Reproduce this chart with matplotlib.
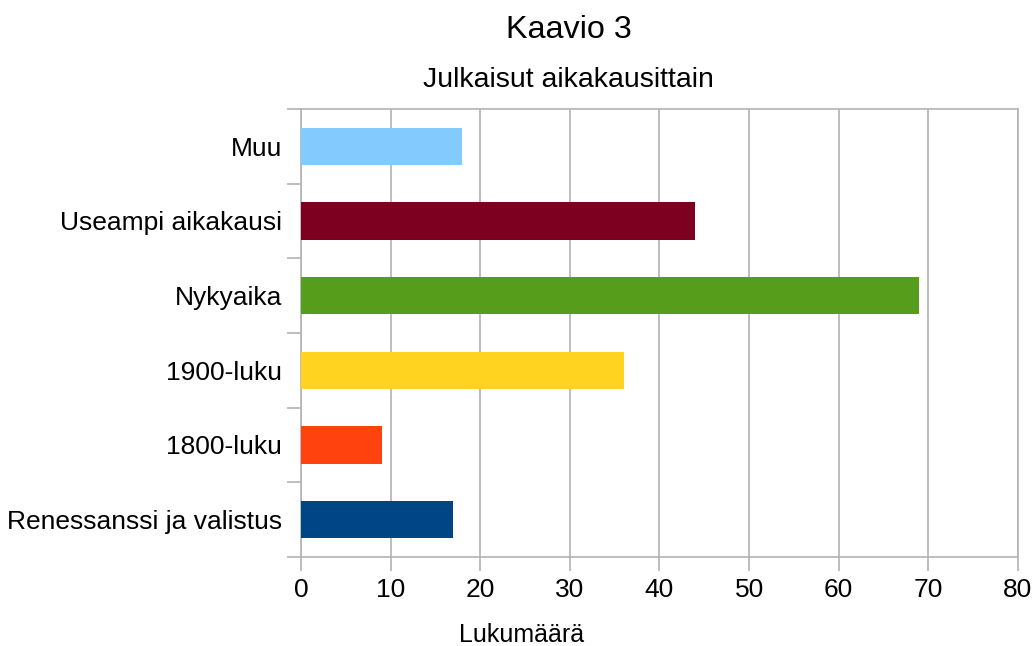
import matplotlib
matplotlib.use("Agg")
import matplotlib.pyplot as plt

plt.rcParams['font.family'] = ['Liberation Sans', 'DejaVu Sans']

categories = ["Renessanssi ja valistus", "1800-luku", "1900-luku",
              "Nykyaika", "Useampi aikakausi", "Muu"]
values = [17, 9, 36, 69, 44, 18]
colors = ["#004586", "#ff420e", "#ffd320", "#579d1c", "#7e0021", "#83caff"]
xticks = [0, 10, 20, 30, 40, 50, 60, 70, 80]

fig = plt.figure(figsize=(10.36, 6.46), dpi=100)
ax = fig.add_axes([0.2905, 0.1378, 0.6921, 0.6935])

ypos = range(len(categories))
ax.barh(ypos, values, height=0.5, color=colors, zorder=3)

ax.set_xlim(0, 80)
ax.set_ylim(-0.5, len(categories) - 0.5)
ax.set_xticks(xticks)
ax.set_xticklabels([str(t) for t in xticks], fontsize=19)
ax.set_yticks(list(ypos))
ax.set_yticklabels(categories, fontsize=19)
ax.set_yticks([i - 0.5 for i in range(len(categories) + 1)], minor=True)

ax.grid(axis='x', color='#b3b3b3', linewidth=1.2, zorder=0)
for s in ax.spines.values():
    s.set_color('#b3b3b3')
    s.set_linewidth(1.2)
ax.tick_params(axis='y', which='major', length=0, pad=13.5)
ax.tick_params(axis='y', which='minor', length=10, color='#b3b3b3', width=1.2)
ax.tick_params(axis='x', length=10, color='#b3b3b3', width=1.2, pad=5)

fig.text(0.503, 0.017, "Lukumäärä", fontsize=18, ha='center', va='center')
fig.text(0.549, 0.953, "Kaavio 3", fontsize=23.3, ha='center', va='center')
fig.text(0.549, 0.876, "Julkaisut aikakausittain", fontsize=20.5, ha='center', va='center')

fig.savefig("out.png", dpi=100)
